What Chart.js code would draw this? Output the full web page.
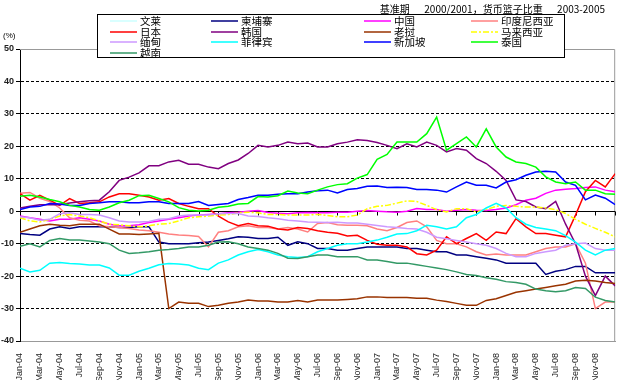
<!DOCTYPE html>
<html>
<head>
<meta charset="utf-8">
<script src="https://cdn.jsdelivr.net/npm/chart.js@4.4.1/dist/chart.umd.min.js"></script>
<style>
  body { margin: 0; background: #fff; }
  #wrap { position: relative; width: 630px; height: 380px; }
  #title { position: absolute; right: 25px; top: 1px; font: 10px "Noto Sans CJK SC"; color: #000; white-space: pre; }
  #unit { position: absolute; left: 3px; top: 31px; font: 8px "Liberation Sans"; color: #000; }
  #legend { position: absolute; left: 97px; top: 14px; width: 466px; height: 42px; border: 1.5px solid #000; background: #fff; font: 10.5px "Noto Sans CJK SC"; color: #000; }
  .item { position: absolute; height: 11px; line-height: 11px; white-space: nowrap; }
  .item svg { position: absolute; left: 0; top: 4px; }
  .item span { position: absolute; }
</style>
</head>
<body>
<div id="wrap">
  <canvas id="chart" width="630" height="380"></canvas>
  <div id="title">基准期　  2000/2001，货币篮子比重　  2003-2005</div>
  <div id="unit">(%)</div>
  <div id="legend"></div>
</div>
<script>
// monthly readings, Jan-04 .. Jan-09
const tickLabels = ["Jan-04", "Mar-04", "May-04", "Jul-04", "Sep-04", "Nov-04",
    "Jan-05", "Mar-05", "May-05", "Jul-05", "Sep-05", "Nov-05",
    "Jan-06", "Mar-06", "May-06", "Jul-06", "Sep-06", "Nov-06",
    "Jan-07", "Mar-07", "May-07", "Jul-07", "Sep-07", "Nov-07",
    "Jan-08", "Mar-08", "May-08", "Jul-08", "Sep-08", "Nov-08"];

const brunei = [0.5, 1.3, 1.5, 2.4, 2.2, 1.8, 1.8, 2.4, 2.6, 2.9, 2.9, 2.6, 2.6, 2.9, 2.9, 2.4, 2.4, 2.4, 3.0, 1.8,
    2.1, 2.4, 3.6, 4.2, 4.9, 4.9, 5.2, 5.4, 5.4, 5.9, 6.3, 6.5, 5.6, 6.7, 7.0, 7.7, 7.8, 7.3, 7.4, 7.3,
    6.7, 6.7, 6.5, 5.9, 7.5, 9.0, 8.0, 8.0, 7.2, 9.0, 9.7, 11.1, 12.1, 12.3, 12.1, 9.0, 8.0, 3.5, 5.0, 4.0, 2.0];
const cambodia = [-6.9, -7.2, -7.4, -5.5, -4.8, -5.3, -4.8, -4.8, -4.8, -4.8, -5.0, -5.0, -4.8, -4.8, -9.5, -10, -10, -10, -9.7, -9.5,
    -9.0, -8.5, -7.9, -8.0, -8.4, -8.4, -8.0, -10.5, -9.4, -10, -11.5, -11.5, -12, -12, -11.5, -11, -11, -11, -11, -11.5,
    -11.5, -12, -12.5, -12.5, -13.5, -13.5, -14, -14.5, -15, -16, -16, -16, -16, -19.5, -18.5, -18, -17, -17, -19, -19, -19];
const china = [-1.5, -2, -2.5, -3, -2.5, -2.5, -2, -2.5, -3, -4, -4.5, -4.5, -4.2, -3.5, -3, -2.5, -2, -1.5, -1.2, -1,
    -0.8, -0.5, -0.3, 0, 0.2, -0.4, -0.6, -0.8, -0.5, -0.4, -0.5, -0.5, -0.3, -0.3, 0, 0.2, 0, -0.2, -0.3, 0,
    0.8, 0.5, 0.5, 0, 0.3, 0.5, 0.3, 0.2, 0.5, 1, 2, 3.4, 4, 5.5, 6.5, 6.8, 7, 7.3, 7.5, 6.5, 6];
const indonesia = [5.5, 5.8, 4, 3, 1, -2, -2.8, -3, -4.5, -4.8, -5, -5.3, -5.8, -6, -6.5, -7, -7.3, -7.5, -7.8, -11,
    -6.5, -6, -4.8, -4.5, -5, -5, -5.5, -5, -5.5, -6.4, -3.8, -3.5, -4.2, -4.3, -4.3, -4.5, -5.5, -6, -5, -3.5,
    -3, -4.8, -9, -10, -10, -11, -12.5, -13.5, -13.2, -13.5, -13.5, -13.5, -12.5, -11.5, -11, -11, -10, -16, -30, -28, -28];
const japan = [5.4, 3.4, 4.9, 3.4, 1.8, 3.9, 2.4, 2.6, 2.9, 4.4, 5.4, 5.4, 4.9, 4.4, 3.4, 3.9, 2.4, 1.5, 0.8, 0.8,
    -1.5, -3.3, -4.5, -3.8, -4.5, -4.6, -5.5, -5.8, -5, -5.3, -6, -6.5, -6.8, -7.6, -7.4, -9, -10.2, -10.5, -10.5, -11,
    -13.1, -13.5, -12, -7.9, -10, -8.4, -6.9, -9, -6.4, -6.9, -2.3, -4.8, -6.9, -6.9, -7.4, -7.9, -1.2, 6, 9.5, 7.5, 11.6];
const korea = [1, 1.5, 2, 2, 2, 2.5, 2.9, 3.2, 3.4, 6, 9.5, 10.5, 11.8, 14, 14, 15.2, 15.7, 14.5, 14.5, 13.6,
    13.1, 14.7, 15.8, 17.8, 20.3, 19.8, 20.3, 21.3, 20.8, 21, 19.8, 19.8, 20.8, 21.3, 22, 21.8, 21.2, 20.3, 19.3, 20.8,
    19.8, 21.3, 20.3, 18.3, 19.3, 18.8, 16.2, 14.7, 12.3, 9.5, 3.5, 3, 1.3, 0.8, 3, -4, -10, -20, -26, -20, -23];
const laos = [-6.5, -5.5, -4.5, -4, -4.3, -4.5, -4, -4, -4, -5.5, -7, -7, -7.2, -7, -6.8, -30, -28, -28.4, -28.4, -29.4,
    -29, -28.4, -28, -27.4, -27.7, -27.7, -28, -28, -27.5, -28, -27.4, -27.4, -27.4, -27.2, -27, -26.4, -26.4, -26.6, -26.6, -26.6,
    -26.8, -26.8, -27.4, -27.8, -28.4, -29, -29, -27.5, -27, -26, -25, -24.5, -24, -23.5, -23, -22.5, -21.5, -21.3, -21.5, -22, -22.3];
const malaysia = [-2, -3, -3.3, -2.5, -1.5, -1, -1.5, -2, -3, -4, -4.2, -4.5, -4.8, -4.5, -4, -3.8, -3, -2, -1.7, -1.5,
    -1.2, -1, -0.5, -0.3, -0.5, -1, -1, -1.2, -1.2, -1.2, -1, -1.3, -1.7, -1.7, -1.2, 0.8, 1.5, 1.8, 2.5, 3.2,
    3, 1.8, 0.5, -0.2, 0.8, 0.8, -0.2, 0.5, 1.5, 1.8, 1.5, 1.3, 1.3, 1, 0.5, -0.7, -2.5, -4, -5.3, -6.5, -7.9];
const myanmar = [-1.7, -2, -2.8, -2.5, -0.8, -0.5, -1, -1, -1.2, -2, -3, -3.3, -3.3, -3.2, -2.5, -2.3, -1.5, -1.2, -1.2, -1.2,
    -0.8, -0.7, -0.7, -1.5, -1.6, -2, -2.3, -2.8, -3, -3.3, -3.4, -3.5, -3.4, -3.6, -3.6, -4, -4.4, -4.8, -5, -5.3,
    -5.5, -6.5, -8, -8.5, -9, -9.5, -10, -10.5, -11.5, -13, -14, -14, -13, -12.5, -12, -10.5, -10, -9.8, -11.5, -12, -12];
const philippines = [-17.6, -18.7, -18.2, -16, -15.8, -16.1, -16.3, -16.6, -16.6, -17.5, -19.7, -19.7, -18.5, -17.6, -16.5, -16.1, -16.3, -16.6, -17.6, -18,
    -16, -15, -13.5, -12.5, -11.8, -12.5, -13.5, -14, -14.3, -14, -12.5, -11.5, -10.5, -10, -10, -9.5, -8.9, -8, -7, -6.9,
    -6, -4.3, -4.8, -5.5, -4.8, -2, -1, 1, 2.4, 1, -2, -4, -5, -5.5, -6, -7.5, -9.5, -12, -13.5, -12, -11.5];
const singapore = [0.5, 1.3, 1.5, 2.4, 2.2, 1.8, 1.8, 2.4, 2.6, 2.9, 2.9, 2.6, 2.6, 2.9, 2.9, 2.4, 2.4, 2.4, 3.0, 1.8,
    2.1, 2.4, 3.6, 4.2, 4.9, 4.9, 5.2, 5.4, 5.4, 5.9, 6.3, 6.5, 5.6, 6.7, 7.0, 7.7, 7.8, 7.3, 7.4, 7.3,
    6.7, 6.7, 6.5, 5.9, 7.5, 9.0, 8.0, 8.0, 7.2, 9.0, 9.7, 11.1, 12.1, 12.3, 12.1, 9.0, 8.0, 3.5, 5.0, 4.0, 2.0];
const thailand = [4.6, 4.9, 4.4, 3.6, 2.9, 1.8, 1.3, 0.5, 0.3, 1.3, 2.6, 3.4, 4.8, 4.9, 3.9, 2.9, 1.1, 0.3, 0.1, 0.3,
    1.2, 1.5, 2.2, 2.4, 4.5, 4.4, 4.8, 6.2, 5.6, 5.4, 6.5, 7.5, 8.2, 8.5, 10.2, 11.3, 16, 17.5, 21.3, 21.3,
    21.3, 23.9, 29, 18.8, 20.8, 22.9, 19.8, 25.4, 19.8, 16.7, 15.2, 14.7, 13.6, 10.6, 9, 8.5, 9, 6.5, 6.5, 5.4, 5.2];
const vietnam = [-10.8, -10, -11, -9, -8.4, -8.9, -8.9, -9.2, -9.5, -10, -12, -13, -12.8, -12.5, -12, -11.8, -11.5, -11, -11, -10.5,
    -9.5, -9.4, -10, -11, -11.5, -12, -13, -14.5, -14.6, -14, -13.5, -13.5, -14, -14, -14, -15, -15, -15.5, -16, -16,
    -16.5, -17, -17.5, -18, -18.7, -19.5, -19.8, -20.5, -21, -21.7, -22, -22.5, -24, -24.5, -24.8, -24.5, -23.5, -23.8, -26.5, -27.5, -28];

const months = brunei.map((v, i) => i);

const series = [
    { label: "文莱", data: brunei, color: '#CCFFFF' },
    { label: "柬埔寨", data: cambodia, color: '#000080' },
    { label: "中国", data: china, color: '#FF00FF' },
    { label: "印度尼西亚", data: indonesia, color: '#FF8080' },
    { label: "日本", data: japan, color: '#FF0000' },
    { label: "韩国", data: korea, color: '#800080' },
    { label: "老挝", data: laos, color: '#993300' },
    { label: "马来西亚", data: malaysia, color: '#FFFF00', dash: [6, 2, 2, 2] },
    { label: "缅甸", data: myanmar, color: '#CC99FF' },
    { label: "菲律宾", data: philippines, color: '#00FFFF' },
    { label: "新加坡", data: singapore, color: '#0000FF' },
    { label: "泰国", data: thailand, color: '#00FF00' },
    { label: "越南", data: vietnam, color: '#339966' }
];

// zero line with tick marks, grey frame on top and right
const frame = {
    id: 'frame',
    beforeDatasetsDraw(chart) {
        const { ctx, chartArea: a, scales: { x, y } } = chart;
        const y0 = Math.round(y.getPixelForValue(0)) + 0.5;
        ctx.save();
        ctx.lineWidth = 1;
        ctx.strokeStyle = '#999';
        ctx.beginPath();
        ctx.moveTo(a.left, a.top + 0.5);
        ctx.lineTo(a.right - 0.5, a.top + 0.5);
        ctx.lineTo(a.right - 0.5, a.bottom);
        ctx.stroke();
        ctx.strokeStyle = '#000';
        ctx.beginPath();
        ctx.moveTo(a.left, y0);
        ctx.lineTo(a.right, y0);
        x.ticks.forEach(t => {
            const px = Math.round(x.getPixelForValue(t.value)) + 0.5;
            ctx.moveTo(px, y0);
            ctx.lineTo(px, y0 + 4);
        });
        ctx.stroke();
        ctx.restore();
    }
};

const chart = new Chart(document.getElementById('chart').getContext('2d'), {
    type: 'line',
    data: {
        datasets: series.map((s, i) => ({
            label: s.label,
            data: s.data.map((v, j) => ({ x: months[j], y: v })),
            borderColor: s.color,
            borderDash: s.dash || [],
            borderWidth: 1.5,
            pointRadius: 0,
            tension: 0,
            fill: false,
            order: -i
        }))
    },
    options: {
        responsive: false,
        animation: false,
        layout: { padding: { top: 49, right: 2, left: 0, bottom: 0 } },
        scales: {
            x: {
                type: 'linear',
                min: 0,
                max: 60,
                grid: { display: false },
                border: { display: true, color: '#999', width: 1 },
                ticks: {
                    stepSize: 2,
                    autoSkip: false,
                    maxRotation: 90,
                    minRotation: 90,
                    padding: 4,
                    color: '#222',
                    font: { family: 'Liberation Sans', size: 9 },
                    callback: v => tickLabels[v / 2] || ''
                },
                afterFit: s => { s.height = 39; }
            },
            y: {
                min: -40,
                max: 50,
                grid: {
                    color: c => ([0, 50, -40].includes(c.tick.value) ? 'rgba(0,0,0,0)' : '#000'),
                    tickColor: '#000',
                    tickLength: 4,
                    lineWidth: 1
                },
                border: { display: true, color: '#000', width: 1, dash: [3, 2] },
                ticks: {
                    stepSize: 10,
                    padding: 2,
                    color: '#222',
                    font: { family: 'Liberation Sans', size: 9, weight: 'bold' }
                },
                afterFit: s => { s.width = 20; }
            }
        },
        plugins: {
            legend: { display: false },
            tooltip: { enabled: false }
        }
    },
    plugins: [frame]
});

// legend box, 4 columns, built from the chart's datasets
const legendBox = document.getElementById('legend');
const colText = [42, 143, 296, 403];
const rowTop = [0, 10.5, 21, 31.5];
chart.data.datasets.forEach((ds, i) => {
    const c = i % 4, r = Math.floor(i / 4);
    const item = document.createElement('div');
    item.className = 'item';
    item.style.left = (colText[c] - 30) + 'px';
    item.style.top = rowTop[r] + 'px';
    const dash = ds.borderDash.length ? ' stroke-dasharray="' + ds.borderDash.join(',') + '"' : '';
    item.innerHTML = '<svg width="27" height="4"><line x1="0" y1="2" x2="27" y2="2" stroke="' + ds.borderColor +
        '" stroke-width="1.5"' + dash + '/></svg><span style="left:30px">' + ds.label + '</span>';
    legendBox.appendChild(item);
});
</script>
</body>
</html>
